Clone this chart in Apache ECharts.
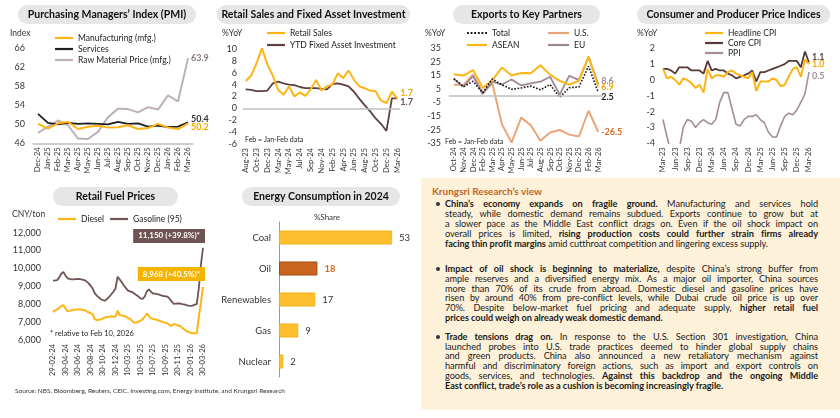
<!DOCTYPE html>
<html><head><meta charset="utf-8">
<script src="https://cdn.jsdelivr.net/npm/echarts@6/dist/echarts.min.js"></script>
<style>
html,body{margin:0;padding:0;background:#fff;}
#wrap{position:relative;width:840px;height:418px;overflow:hidden;}
#chart{position:absolute;left:0;top:0;width:840px;height:418px;}
#box{position:absolute;left:421px;top:178px;width:419px;height:232px;background:#FDF1D9;font-family:Lato,sans-serif;color:#1a1a1a;}
#hdr{position:absolute;left:11px;top:7px;font-size:10px;font-weight:bold;color:#C0661C;line-height:12px;}
.para{position:absolute;left:24px;width:373px;}
.ln{font-size:9.2px;letter-spacing:-0.06px;line-height:9.8px;height:9.8px;text-align:justify;text-align-last:justify;white-space:normal;}
.ln.last{text-align-last:left;}
.dot{position:absolute;left:-9px;top:3px;width:4px;height:4px;border-radius:50%;background:#333;}
</style></head>
<body>
<div id="wrap">
<div id="chart"></div>
<div id="box">
  <div id="hdr">Krungsri Research’s view</div>
  <div class="para" style="top:21.4px"><span class="dot"></span>
    <div class="ln"><b>China’s economy expands on fragile ground.</b> Manufacturing and services hold</div>
    <div class="ln">steady, while domestic demand remains subdued. Exports continue to grow but at</div>
    <div class="ln">a slower pace as the Middle East conflict drags on. Even if the oil shock impact on</div>
    <div class="ln">overall prices is limited, <b>rising production costs could further strain firms already</b></div>
    <div class="ln last"><b>facing thin profit margins</b> amid cutthroat competition and lingering excess supply.</div>
  </div>
  <div class="para" style="top:86px"><span class="dot"></span>
    <div class="ln"><b>Impact of oil shock is beginning to materialize,</b> despite China’s strong buffer from</div>
    <div class="ln">ample reserves and a diversified energy mix. As a major oil importer, China sources</div>
    <div class="ln">more than 70% of its crude from abroad. Domestic diesel and gasoline prices have</div>
    <div class="ln">risen by around 40% from pre-conflict levels, while Dubai crude oil price is up over</div>
    <div class="ln">70%. Despite below-market fuel pricing and adequate supply, <b>higher retail fuel</b></div>
    <div class="ln last"><b>prices could weigh on already weak domestic demand.</b></div>
  </div>
  <div class="para" style="top:153.8px"><span class="dot"></span>
    <div class="ln"><b>Trade tensions drag on.</b> In response to the U.S. Section 301 investigation, China</div>
    <div class="ln">launched probes into U.S. trade practices deemed to hinder global supply chains</div>
    <div class="ln">and green products. China also announced a new retaliatory mechanism against</div>
    <div class="ln">harmful and discriminatory foreign actions, such as import and export controls on</div>
    <div class="ln">goods, services, and technologies. <b>Against this backdrop and the ongoing Middle</b></div>
    <div class="ln last"><b>East conflict, trade’s role as a cushion is becoming increasingly fragile.</b></div>
  </div>
</div>
</div>
<script>
// ---------- DATA ----------
const pmiCats = ['Dec-24','Jan-25','Feb-25','Mar-25','Apr-25','May-25','Jun-25','Jul-25','Aug-25','Sep-25','Oct-25','Nov-25','Dec-25','Jan-26','Feb-26','Mar-26'];
const pmiMfg = [50.1,49.1,50.2,50.5,49.0,49.5,49.7,49.3,49.4,49.8,49.0,49.2,50.1,49.3,49.0,50.2];
const pmiSvc = [52.2,50.3,50.0,50.3,50.1,50.2,50.1,50.0,50.5,50.1,50.2,49.5,49.7,49.4,49.5,50.4];
const pmiRaw = [48.2,49.5,50.8,49.8,47.0,46.9,48.4,51.5,53.3,53.2,52.5,53.6,53.1,56.1,54.8,63.9];
const pmiTicks = [46,50,54,58,62,66];

const rsCats = ['Aug-23','Sep-23','Oct-23','Nov-23','Dec-23','Feb-24','Mar-24','Apr-24','May-24','Jun-24','Jul-24','Aug-24','Sep-24','Oct-24','Nov-24','Dec-24','Feb-25','Mar-25','Apr-25','May-25','Jun-25','Jul-25','Aug-25','Sep-25','Oct-25','Nov-25','Dec-25','Feb-26','Mar-26'];
const retailSales = [4.6,5.5,7.6,10.1,7.4,5.5,3.1,2.3,3.7,2.0,2.7,2.1,3.2,4.8,3.0,3.7,4.0,5.9,5.1,6.4,4.8,3.7,3.4,3.0,2.9,1.3,0.9,2.8,1.7];
const ytdFai = [3.2,3.1,2.9,2.9,3.0,4.2,4.5,4.2,4.0,3.9,3.6,3.4,3.4,3.4,3.3,3.2,4.1,4.2,4.0,3.7,2.8,1.6,0.5,-0.5,-1.7,-2.6,-3.8,1.7,1.7];

const exCats = ['Oct-24','Nov-24','Dec-24','Feb-25','Mar-25','Apr-25','May-25','Jun-25','Jul-25','Aug-25','Sep-25','Oct-25','Nov-25','Dec-25','Feb-26','Mar-26'];
const exTotal = [12.7,6.7,10.7,2.3,12.4,8.1,4.8,5.8,7.2,4.4,8.3,-1.1,5.9,6.6,21.8,2.5];
const exUS = [8.1,8.0,15.6,2.3,9.1,-21.0,-34.5,-16.1,-21.7,-33.1,-27.0,-25.2,-28.6,-30.0,-11.0,-26.5];
const exASEAN = [15.8,14.9,19.0,5.7,11.6,20.8,15.0,16.8,16.6,22.5,15.6,11.0,8.2,11.1,29.0,6.9];
const exEU = [12.4,6.7,14.6,1.3,10.4,8.3,12.0,7.6,9.2,10.4,14.0,0.9,14.8,11.6,28.5,8.6];
const exTicks = [-35,-25,-15,-5,5,15,25,35];

const cpiCats = ['Mar-23','Apr-23','May-23','Jun-23','Jul-23','Aug-23','Sep-23','Oct-23','Nov-23','Dec-23',
  'Jan-24','Feb-24','Mar-24','Apr-24','May-24','Jun-24','Jul-24','Aug-24','Sep-24','Oct-24','Nov-24','Dec-24',
  'Jan-25','Feb-25','Mar-25','Apr-25','May-25','Jun-25','Jul-25','Aug-25','Sep-25','Oct-25','Nov-25','Dec-25',
  'Jan-26','Feb-26','Mar-26'];
const headlineCpi = [0.7,0.1,0.2,0.0,-0.3,0.1,0.0,-0.2,-0.5,-0.3, -0.8,0.7,0.1,0.3,0.3,0.2,0.5,0.6,0.4,0.3,0.2,0.1, 0.5,-0.7,-0.1,-0.1,-0.1,0.1,0.0,-0.4,-0.3,0.2,0.7,0.8, 0.2,1.3,1.0];
const coreCpi = [0.7,0.7,0.6,0.4,0.8,0.8,0.8,0.6,0.6,0.6, 0.4,1.2,0.6,0.7,0.6,0.6,0.4,0.3,0.1,0.2,0.3,0.4, 0.6,-0.1,0.5,0.5,0.6,0.7,0.8,0.9,1.0,1.2,1.2,1.2, 0.8,1.8,1.1];
const ppi = [-2.5,-3.6,-4.6,-5.4,-4.4,-3.0,-2.5,-2.6,-3.0,-2.7, -2.5,-2.7,-2.8,-2.5,-1.4,-0.8,-0.8,-1.8,-2.8,-2.9,-2.5,-2.3, -2.3,-2.2,-2.5,-2.7,-3.3,-3.6,-3.6,-2.9,-2.3,-2.1,-2.2,-1.9, -1.4,-0.9,0.5];

const fuelDates = ['29-02-24','10-03-24','20-03-24','30-03-24','10-04-24','20-04-24','30-04-24','10-05-24','20-05-24','30-05-24','10-06-24','20-06-24','30-06-24',
  '10-07-24','20-07-24','30-07-24','10-08-24','20-08-24','30-08-24','10-09-24','20-09-24','30-09-24','10-10-24','20-10-24','30-10-24',
  '10-11-24','20-11-24','30-11-24','10-12-24','20-12-24','30-12-24','10-01-25','20-01-25','10-02-25','20-02-25','28-02-25','10-03-25',
  '20-03-25','30-03-25','10-04-25','20-04-25','30-04-25','10-05-25','20-05-25','30-05-25','10-06-25','20-06-25','30-06-25','10-07-25',
  '20-07-25','30-07-25','10-08-25','20-08-25','30-08-25','10-09-25','20-09-25','30-09-25','20-10-25','30-10-25','10-11-25','20-11-25',
  '30-11-25','10-12-25','20-12-25','30-12-25','10-01-26','20-01-26','30-01-26','10-02-26','28-02-26','10-03-26','20-03-26','30-03-26'];
const gasoline = [9320,9330,9350,9500,9720,9800,9600,9450,9420,9390,9390,9400,9410,9400,9380,9350,9280,9180,9040,8890,8620,8480,8380,8280,8230,8200,8300,8420,8560,8700,8880,9540,9390,9230,9050,8900,8760,8720,8680,8600,8510,8430,8330,8300,8420,8700,8830,8700,8600,8590,8570,8540,8490,8460,8440,8420,8300,8150,8020,8030,8050,8040,8010,7990,7950,7920,7910,7920,7976,8010,8900,10200,11150];
const diesel = [7580,7640,7710,7800,7900,7950,7760,7600,7630,7670,7690,7700,7710,7700,7690,7670,7620,7550,7500,7450,7180,7110,7130,7150,7200,7260,7280,7300,7330,7320,7300,7640,7400,7370,7340,7300,7230,7180,7060,6970,6980,7020,7080,7150,7300,7480,7350,7210,7180,7160,7120,7080,7030,7000,6960,6930,6820,6800,6890,6860,6810,6780,6680,6600,6500,6460,6410,6380,6383,6380,7300,8100,8968];
const gasolineNote = '11,150 (+39.8%)*';
const dieselNote = '8,968 (+40.5%)*';

const energyCats = ['Coal','Oil','Renewables','Gas','Nuclear'];
const energyShare = [53,18,17,9,2];

// ---------- STYLE ----------
const F = 'Lato';
const cYellow = '#FDB515', cYellowTxt = '#F2A900', cDark = '#1E1E1E', cRaw = '#BDB1B7', cRawTxt = '#8C7682';
const cFai = '#5E4040', cUS = '#E9A57A', cUSTxt = '#D2691E', cEU = '#9D8895';
const cCore = '#553838', cPPI = '#A48D99', cGas = '#6E5454';
const dotIcon = 'path://M0,0h2v2h-2zM4,0h2v2h-2zM8,0h2v2h-2zM12,0h2v2h-2zM16,0h2v2h-2zM20,0h2v2h-2z';

function xCat(grid, data, bg, interval, line) {
  return {type:'category', gridIndex:grid, data:data, boundaryGap:bg, axisTick:{show:false},
    axisLine: line ? {show:true, onZero:false, lineStyle:{color:'#BFBFBF', width:1.5}} : {show:false, onZero:false},
    axisLabel:{rotate:90, fontSize:7.6, color:'#333', fontFamily:F, interval:interval, margin:4}};
}
function yVal(grid, min, max, interval, custom, margin, fmt) {
  const lbl = {color:'#333', fontSize:9, fontFamily:F, margin:margin};
  if (custom) lbl.customValues = custom;
  if (fmt) lbl.formatter = fmt;
  const a = {type:'value', gridIndex:grid, min:min, max:max, splitLine:{show:false}, axisLine:{show:false}, axisTick:{show:false}, axisLabel:lbl};
  if (interval) a.interval = interval;
  return a;
}
function ln(name, idx, data, color, width, lbl, extra) {
  const s = {type:'line', name:name, xAxisIndex:idx, yAxisIndex:idx, data:data, symbol:'none', color:color,
    lineStyle:{color:color, width:width}, animation:false};
  if (lbl) s.endLabel = Object.assign({show:true, fontSize:9, fontWeight:'bold', fontFamily:F, distance:3,
    formatter: p => Number(p.value).toFixed(1)}, lbl);
  return Object.assign(s, extra || {});
}
const zeroLine = {silent:true, symbol:'none', label:{show:false}, lineStyle:{color:'#BFBFBF', type:'solid', width:1.5}, data:[{yAxis:0}]};
function leg(names, left, top, orient, gap, w) {
  return {data:names.map(n => n === 'Total' ? {name:n, icon:dotIcon} : {name:n}), icon:'rect',
    left:left, top:top, orient:orient, itemGap:gap, itemWidth:w||18, itemHeight:2.2, padding:0,
    selectedMode:false, textStyle:{fontSize:8.5, color:'#222', fontFamily:F, lineHeight:10}};
}
function pill(x, y, w, h, t) {
  return {type:'group', children:[
    {type:'rect', shape:{x:x, y:y, width:w, height:h, r:h/2}, style:{fill:'#E6E6E6'}},
    {type:'text', x:x+w/2, y:y+h/2+0.5, style:{text:t, fill:'#111', font:'bold 10.5px Lato', align:'center', verticalAlign:'middle'}}
  ]};
}
function txt(t, x, y, size, extra) {
  return {type:'text', x:x, y:y, style:Object.assign({text:t, fill:'#333', font:size+'px Lato', align:'left', verticalAlign:'middle'}, extra||{})};
}

const option = {
  animation:false,
  textStyle:{fontFamily:F},
  grid:[
    {left:33, top:48.3, width:160, height:95},
    {left:243, top:49, width:157, height:95},
    {left:449, top:48.3, width:154, height:95},
    {left:663, top:48.3, width:146, height:95},
    {left:53, top:232.7, width:150, height:107.3},
    {left:279, top:222, width:128, height:155}
  ],
  xAxis:[
    xCat(0, pmiCats, true, 0, true),
    xCat(1, rsCats, true, 1, false),
    xCat(2, exCats, true, 0, false),
    xCat(3, cpiCats, false, 2, false),
    xCat(4, fuelDates, false, 5, false),
    {type:'value', gridIndex:5, min:0, max:60, show:false}
  ],
  yAxis:[
    yVal(0, 46, 66, null, pmiTicks, 8),
    yVal(1, -6, 10, 2, null, 6),
    yVal(2, -35, 35, null, exTicks, 8),
    yVal(3, -4, 2, 1, null, 8),
    yVal(4, 6000, 12000, 1000, null, 12, v => v.toLocaleString('en-US')),
    {type:'category', gridIndex:5, data:energyCats, inverse:true, axisTick:{show:false},
     axisLine:{show:true, lineStyle:{color:'#999', width:1}},
     axisLabel:{color:'#333', fontSize:9.5, fontFamily:F, margin:8}}
  ],
  legend:[
    leg(['Manufacturing (mfg.)','Services','Raw Material Price (mfg.)'], 55, 33, 'vertical', 1),
    leg(['Retail Sales','YTD Fixed Asset Investment'], 267, 28, 'vertical', 2),
    leg(['Total','ASEAN'], 467, 28, 'vertical', 2, 20),
    leg(['U.S.','EU'], 548, 28, 'vertical', 2, 21),
    leg(['Headline CPI','Core CPI','PPI'], 705, 28, 'vertical', 0),
    leg(['Diesel','Gasoline (95)'], 58, 214, 'horizontal', 6)
  ],
  series:[
    ln('Raw Material Price (mfg.)', 0, pmiRaw, cRaw, 2, {color:cRawTxt, offset:[0,0]}),
    ln('Services', 0, pmiSvc, cDark, 1.8, {color:'#333', offset:[0,-3]}),
    ln('Manufacturing (mfg.)', 0, pmiMfg, cYellow, 2, {color:cYellowTxt, offset:[0,4]}),

    ln('YTD Fixed Asset Investment', 1, ytdFai, cFai, 1.8, {color:'#6A4C55', offset:[0,3.5]}, {markLine:zeroLine}),
    ln('Retail Sales', 1, retailSales, cYellow, 2, {color:cYellowTxt, offset:[0,-5.5]}),

    ln('U.S.', 2, exUS, cUS, 2, {color:cUSTxt, offset:[0,0]}, {markLine:zeroLine}),
    ln('EU', 2, exEU, cEU, 1.8, {color:cEU, offset:[0,-3]}),
    ln('ASEAN', 2, exASEAN, cYellow, 2, {color:cYellowTxt, offset:[0,1]}),
    ln('Total', 2, exTotal, '#111', 1.6, {color:'#222', offset:[0,5]}, {lineStyle:{color:'#111', width:1.6, type:'dotted'}}),

    ln('PPI', 3, ppi, cPPI, 1.6, {color:cPPI, offset:[0,4]}),
    ln('Core CPI', 3, coreCpi, cCore, 1.8, {color:'#5A4A4A', offset:[0,-5]}),
    ln('Headline CPI', 3, headlineCpi, cYellow, 2, {color:cYellowTxt, offset:[0,0]}),

    ln('Gasoline (95)', 4, gasoline, cGas, 1.8, {formatter:gasolineNote, color:'#fff', backgroundColor:cGas, fontSize:8,
        padding:[3,5,3,5], align:'right', distance:2, offset:[0,-12]}),
    ln('Diesel', 4, diesel, cYellow, 2, {formatter:dieselNote, color:'#fff', backgroundColor:'#F5B400', fontSize:8,
        padding:[3,5,3,5], align:'right', distance:2, offset:[0,-13]}),

    {type:'bar', name:'Share', xAxisIndex:5, yAxisIndex:5, barWidth:14, animation:false,
     data: energyShare.map((v,i) => energyCats[i]==='Oil'
        ? {value:v, itemStyle:{color:'#C9651E', borderColor:'#9E4B10', borderWidth:1}, label:{color:'#D0691E', fontWeight:'bold'}}
        : {value:v}),
     itemStyle:{color:'#FDBF2D', borderColor:'#F4AE14', borderWidth:0.8},
     label:{show:true, position:'right', distance:7, fontSize:9.5, color:'#333', fontFamily:F}}
  ],
  graphic:[
    pill(18, 5, 178, 19, 'Purchasing Managers’ Index (PMI)'),
    pill(217, 5, 193, 19, 'Retail Sales and Fixed Asset Investment'),
    pill(453, 5, 147, 19, 'Exports to Key Partners'),
    pill(637, 5, 193, 19, 'Consumer and Producer Price Indices'),
    pill(53, 187, 125, 19, 'Retail Fuel Prices'),
    pill(242, 187, 158, 19, 'Energy Consumption in 2024'),
    txt('Index', 10, 33, 8.5),
    txt('%YoY', 222, 33, 8.5),
    txt('%YoY', 425, 33, 8.5),
    txt('%YoY', 637, 33, 8.5),
    txt('CNY/ton', 12, 214, 8.5),
    txt('Feb = Jan-Feb data', 245, 140, 7, {fill:'#222'}),
    txt('Feb = Jan-Feb data', 445, 142, 7, {fill:'#222'}),
    txt('* relative to Feb 10, 2026', 50, 334, 7.5, {fill:'#222'}),
    txt('%Share', 327, 217, 8, {align:'center'}),
    txt('Source: NBS, Bloomberg, Reuters, CEIC, Investing.com, Energy Institute, and Krungsri Research', 15, 391, 6.5, {fill:'#333'})
  ]
};
const chart = echarts.init(document.getElementById('chart'), null, {renderer:'canvas'});
chart.setOption(option);
</script>
</body></html>
